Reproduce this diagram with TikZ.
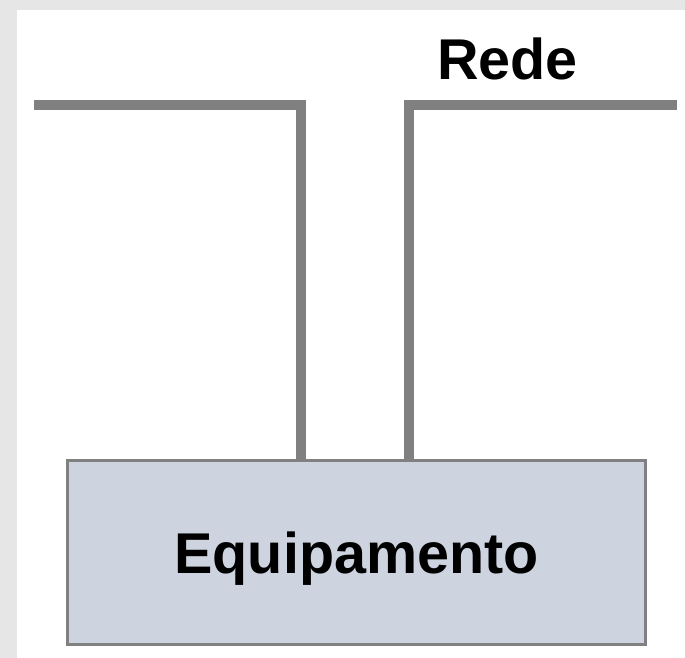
\documentclass[tikz,border=0pt]{standalone}
\usepackage{fontspec}
\setmainfont{Liberation Sans}
\usepackage{xcolor}
\usetikzlibrary{calc,positioning}
\definecolor{paper}{HTML}{E6E6E6}
\definecolor{wire}{HTML}{808080}
\definecolor{boxfill}{HTML}{CDD4E0}
\tikzset{
  Wire/.style={
    draw=wire, line width=10pt,
    line join=miter, line cap=butt
  },
  BigBold/.style={font=\fontsize{57.5}{62}\selectfont\bfseries},
  EquipBox/.style={
    draw=wire, line width=3pt, fill=boxfill,
    minimum width=578pt, minimum height=184pt,
    inner sep=0pt, text depth=0pt, BigBold
  }
}

\begin{document}
\begin{tikzpicture}[x=1pt, y=-1pt]
  % sheet
  \fill[paper] (0,0) rectangle (685,658);
  \fill[white] (17,10) rectangle (685,658);
  \useasboundingbox (0,0) rectangle (685,658);
  % network line ends
  \coordinate (L0) at (34,105);
  \coordinate (L1) at (301,105);
  \coordinate (R1) at (409,105);
  \coordinate (R0) at (677,105);

  % equipment
  \node[EquipBox] (equip) at (356.5,552.5) {Equipamento};

  % wires down to the equipment
  \draw[Wire] (L0) -- (L1) -- (L1 |- equip.north);
  \draw[Wire] (R0) -- (R1) -- (R1 |- equip.north);

  \node[anchor=base west, inner sep=0pt, BigBold] (rede) at (437,80) {Rede};
\end{tikzpicture}
\end{document}
